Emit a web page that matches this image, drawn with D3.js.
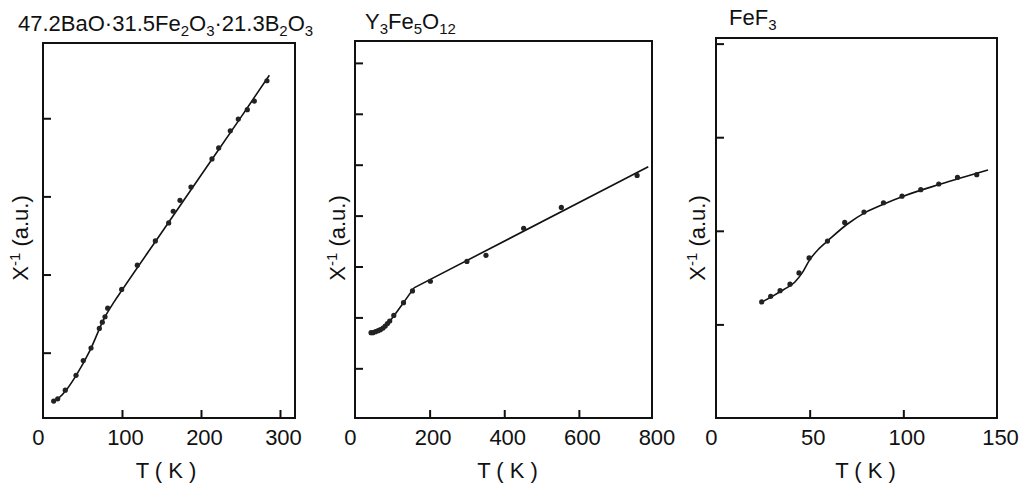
<!DOCTYPE html>
<html>
<head>
<meta charset="utf-8">
<script src="https://cdn.jsdelivr.net/npm/d3@7"></script>
<style>
  html, body { margin: 0; padding: 0; background: #fff; }
  svg { display: block; }
  text { font-family: "Liberation Sans", Arial, sans-serif; fill: #111; }
</style>
</head>
<body>
<script>
// ---- Inverse susceptibility vs temperature, three compounds ----

// Panel A: 47.2BaO·31.5Fe2O3·21.3B2O3 glass
const glassT   = [13.5, 18.6, 28.2, 41.8, 51, 60.8, 71.3, 75.1, 78.5, 81.9, 99.6, 119.4, 142.2, 159.1, 164.9, 173.4, 187.3, 213.9, 222.4, 237.1, 247.2, 258.6, 267.5, 283.5];
const glassInv = [0.38, 0.41, 0.52, 0.71, 0.90, 1.06, 1.31, 1.39, 1.46, 1.57, 1.81, 2.12, 2.43, 2.66, 2.81, 2.95, 3.12, 3.48, 3.62, 3.84, 3.99, 4.11, 4.22, 4.48];
const glassFitT   = [13.5, 20, 30, 42, 60, 78, 90, 100, 150, 200, 250, 286.5];
const glassFitInv = [0.37, 0.42, 0.53, 0.71, 1.04, 1.45, 1.65, 1.80, 2.535, 3.27, 4.005, 4.55];

// Panel B: Y3Fe5O12
const yigT   = [43, 48, 55, 62, 68, 75, 81, 87, 93, 104, 130, 154, 202, 300, 351, 452, 553, 756];
const yigInv = [1.70, 1.70, 1.72, 1.74, 1.76, 1.79, 1.83, 1.88, 1.93, 2.04, 2.29, 2.52, 2.71, 3.10, 3.22, 3.75, 4.16, 4.79];
const yigCurveT   = [43, 60, 80, 100, 130, 158];
const yigCurveInv = [1.69, 1.72, 1.81, 1.99, 2.29, 2.58];
const yigLineT    = [158, 786];
const yigLineInv  = [2.58, 4.96];

// Panel C: FeF3
const fef3T   = [24.4, 29.2, 34.2, 39.5, 44.3, 49.7, 59.5, 68.7, 79, 89.4, 99.3, 109.3, 118.9, 128.9, 139.2];
const fef3Inv = [1.24, 1.30, 1.36, 1.43, 1.55, 1.71, 1.89, 2.09, 2.20, 2.30, 2.37, 2.44, 2.50, 2.57, 2.60];
const fef3FitT   = [24.4, 30, 36, 42, 46, 50, 55, 60, 70, 80, 90, 100, 120, 145.2];
const fef3FitInv = [1.24, 1.30, 1.37, 1.45, 1.55, 1.69, 1.81, 1.90, 2.07, 2.20, 2.29, 2.37, 2.50, 2.65];

// Tick values
const glassXTicks = [0, 100, 200, 300];
const glassYTicks = [1, 2, 3, 4];
const yigXTicks   = [0, 200, 400, 600, 800];
const yigYTicks   = [1, 2, 3, 4, 5, 6, 7];
const fef3XTicks  = [0, 50, 100, 150];
const fef3YTicks  = [1, 2, 3, 4];

// Titles (text, isSubscript)
const glassTitle = [["47.2BaO·31.5Fe", 0], ["2", 1], ["O", 0], ["3", 1], ["·21.3B", 0], ["2", 1], ["O", 0], ["3", 1]];
const yigTitle   = [["Y", 0], ["3", 1], ["Fe", 0], ["5", 1], ["O", 0], ["12", 1]];
const fef3Title  = [["FeF", 0], ["3", 1]];

const xLabel = "T ( K )";

const zip = (a, b) => a.map((v, i) => [v, b[i]]);

const panels = [
  {
    box: { left: 43, right: 295, top: 43, bottom: 418 },
    xDomain: [0, 319], yDomain: [0.164, 4.963],
    xTicks: glassXTicks, yTicks: glassYTicks,
    points: zip(glassT, glassInv),
    curves: [{ pts: zip(glassFitT, glassFitInv), curve: d3.curveMonotoneX }],
    title: glassTitle, titleX: 18, titleY: 31,
    yLabelX: 28, xLabelDx: -3
  },
  {
    box: { left: 355, right: 652, top: 41, bottom: 418 },
    xDomain: [0, 796], yDomain: [0.024, 7.43],
    xTicks: yigXTicks, yTicks: yigYTicks,
    points: zip(yigT, yigInv),
    curves: [
      { pts: zip(yigCurveT, yigCurveInv), curve: d3.curveMonotoneX },
      { pts: zip(yigLineT, yigLineInv), curve: d3.curveLinear }
    ],
    title: yigTitle, titleX: 365, titleY: 29,
    yLabelX: 345, xLabelDx: 4
  },
  {
    box: { left: 716, right: 997, top: 38, bottom: 418 },
    xDomain: [0, 150], yDomain: [0, 4.06],
    xTicks: fef3XTicks, yTicks: fef3YTicks,
    points: zip(fef3T, fef3Inv),
    curves: [{ pts: zip(fef3FitT, fef3FitInv), curve: d3.curveMonotoneX }],
    title: fef3Title, titleX: 729, titleY: 25,
    yLabelX: 705, xLabelDx: 9
  }
];

const svg = d3.select("body").append("svg")
  .attr("width", 1019).attr("height", 491);

panels.forEach(p => {
  const b = p.box;
  const x = d3.scaleLinear().domain(p.xDomain).range([b.left, b.right]);
  const y = d3.scaleLinear().domain(p.yDomain).range([b.bottom, b.top]);
  const g = svg.append("g");
  const onEdge = d => x(d) <= b.left + 2 || x(d) >= b.right - 2;

  // Bottom axis: inward ticks, labels below
  const xAxis = g.append("g")
    .attr("transform", `translate(0,${b.bottom})`)
    .call(d3.axisBottom(x).tickValues(p.xTicks).tickSize(-8).tickPadding(11).tickFormat(d3.format("d")));
  xAxis.select(".domain").remove();
  xAxis.selectAll(".tick line").attr("stroke", "#111").attr("stroke-width", 2)
    .attr("display", d => onEdge(d) ? "none" : null);
  xAxis.selectAll(".tick text")
    .attr("font-size", 22)
    .attr("font-family", "Liberation Sans, Arial, sans-serif")
    .attr("fill", "#111")
    .attr("text-anchor", d => d === 0 ? "end" : "middle")
    .attr("dx", d => d === 0 ? 1 : 3);

  // Left axis: inward ticks, no labels
  const yAxis = g.append("g")
    .attr("transform", `translate(${b.left},0)`)
    .call(d3.axisLeft(y).tickValues(p.yTicks).tickSize(-8).tickFormat(""));
  yAxis.select(".domain").remove();
  yAxis.selectAll(".tick line").attr("stroke", "#111").attr("stroke-width", 2);

  // Frame
  g.append("rect")
    .attr("x", b.left).attr("y", b.top)
    .attr("width", b.right - b.left).attr("height", b.bottom - b.top)
    .attr("fill", "none").attr("stroke", "#111").attr("stroke-width", 2);

  // Fitted curves
  p.curves.forEach(c => {
    g.append("path")
      .datum(c.pts)
      .attr("d", d3.line().x(d => x(d[0])).y(d => y(d[1])).curve(c.curve))
      .attr("fill", "none").attr("stroke", "#111").attr("stroke-width", 1.6);
  });

  // Measured points
  g.selectAll("circle.pt").data(p.points).join("circle")
    .attr("class", "pt")
    .attr("cx", d => x(d[0])).attr("cy", d => y(d[1]))
    .attr("r", 2.6).attr("fill", "#222");

  // Title with subscripts
  const t = g.append("text")
    .attr("x", p.titleX).attr("y", p.titleY)
    .attr("font-size", 22);
  let prevSub = 0;
  p.title.forEach(([s, sub]) => {
    t.append("tspan")
      .attr("font-size", sub ? 15 : 22)
      .attr("dy", sub === prevSub ? 0 : (sub ? 5 : -5))
      .text(s);
    prevSub = sub;
  });

  // X label
  g.append("text")
    .attr("x", (b.left + b.right) / 2 + p.xLabelDx).attr("y", 478)
    .attr("text-anchor", "middle").attr("font-size", 22)
    .attr("xml:space", "preserve")
    .text(xLabel);

  // Y label: X^-1 (a.u.)
  const yl = g.append("text")
    .attr("transform", `translate(${p.yLabelX},238) rotate(-90)`)
    .attr("text-anchor", "middle").attr("font-size", 22);
  yl.append("tspan").text("X");
  yl.append("tspan").attr("font-size", 15).attr("dy", -8).text("-1");
  yl.append("tspan").attr("dy", 8).text(" (a.u.)");
});
</script>
</body>
</html>
